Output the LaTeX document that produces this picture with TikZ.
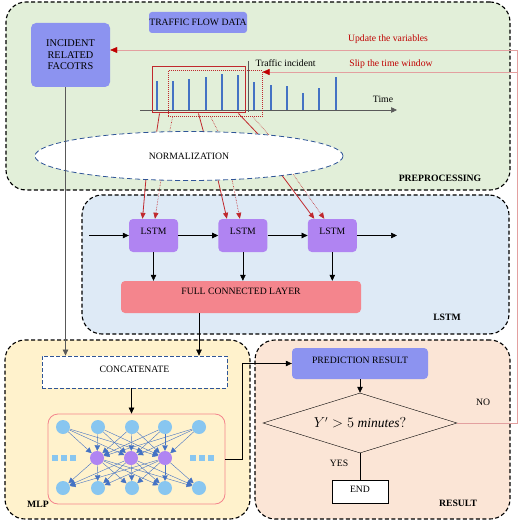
\documentclass[tikz,border=0pt]{standalone}
\usepackage{fontspec}
\setmainfont{Liberation Serif}
\usepackage{xcolor}
\usetikzlibrary{shapes.geometric, arrows.meta, positioning}
\definecolor{prepfill}{HTML}{E2EFD9}
\definecolor{lstmfill}{HTML}{DEEAF6}
\definecolor{mlpfill}{HTML}{FFF2CC}
\definecolor{resfill}{HTML}{FBE5D6}
\definecolor{inputblue}{HTML}{8C93F0}
\definecolor{cellpurple}{HTML}{B084F2}
\definecolor{fclred}{HTML}{F4858D}
\definecolor{barblue}{HTML}{4472C4}
\definecolor{darkred}{HTML}{C00000}
\definecolor{winred}{HTML}{C0282D}
\definecolor{fbpink}{HTML}{E3A0A0}
\definecolor{neuronblue}{HTML}{88C6F0}
\definecolor{normblue}{HTML}{2F5597}
\tikzset{
    stage/.style={rectangle, rounded corners=20pt, draw, line width=1.1pt, dash pattern=on 4pt off 2.5pt, inner sep=0pt},
    stagelabel/.style={font=\fontsize{9.7}{11}\selectfont\bfseries},
    inputbox/.style={rectangle, rounded corners=5pt, fill=inputblue, align=center, inner sep=0pt},
    cell/.style={rectangle, rounded corners=4pt, fill=cellpurple, minimum width=49pt, minimum height=33pt, inner sep=0pt, text depth=9pt},
    fcl/.style={rectangle, rounded corners=4pt, fill=fclred, minimum width=240pt, minimum height=32pt, inner sep=0pt, text depth=12pt},
    window/.style={rectangle, draw=winred, line width=1pt, minimum width=93pt, minimum height=46pt, inner sep=0pt},
    neuron/.style={circle, fill=neuronblue, minimum size=14pt, inner sep=0pt},
    hidden/.style={circle, fill=cellpurple, minimum size=14pt, inner sep=0pt},
    dots/.style={rectangle, fill=neuronblue, minimum size=6pt, inner sep=0pt},
    arrow/.style={-{Stealth[inset=0pt, length=6pt, width=5.5pt]}, semithick},
    nnarrow/.style={-{Stealth[inset=0pt, length=5.5pt, width=5.5pt]}, barblue, thin},
    redarrow/.style={-{Stealth[inset=0pt, length=6pt, width=5pt]}, winred, semithick},
    fbline/.style={fbpink, thin, -{Stealth[inset=0pt, length=7pt, width=6pt, color=darkred]}},
    bar/.style={barblue, line width=2.6pt}
}

\begin{document}
\begin{tikzpicture}[x=1pt, y=-1pt, font=\fontsize{9.7}{11}\selectfont, line cap=butt]
    \useasboundingbox (0,0) rectangle (520,521);
    % stages
    \node (prep) [stage, fill=prepfill, minimum width=504pt, minimum height=188pt] at (258,96) {};
    \node (lstmstage) [stage, fill=lstmfill, minimum width=427pt, minimum height=139pt] at (295.5,264.5) {};
    \node (mlp) [stage, fill=mlpfill, minimum width=245pt, minimum height=179pt] at (127.5,429.5) {};
    \node (result) [stage, fill=resfill, minimum width=255pt, minimum height=179pt] at (382.5,429.5) {};
    \node (preplbl) [stagelabel] at (440,178) {PREPROCESSING};
    \node (lstmlbl) [stagelabel] at (447,317) {LSTM};
    \node (mlplbl) [stagelabel] at (38,504) {MLP};
    \node (resultlbl) [stagelabel] at (458,503) {RESULT};

    % preprocessing
    \node (flowdata) [inputbox, minimum width=98pt, minimum height=21pt, rounded corners=3pt] at (198,22.5) {TRAFFIC FLOW DATA};
    \node (incident) [inputbox, minimum width=79pt, minimum height=64pt, font=\fontsize{10.3}{11.5}\selectfont] at (70.5,55) {INCIDENT\\RELATED\\FACOTRS};
    \foreach \x/\t in {157/81, 173/81, 189/79, 206/77, 222/74, 238/75, 254/82, 271/85, 287/86, 303/93, 319/88, 336/77}
        \draw[bar] (\x,110) -- (\x,\t);
    \coordinate (axisstart) at (140,110);
    \coordinate (axisend) at (397,110);
    \draw[arrow, gray!70!black] (axisstart) -- (axisend);
    \node (timelbl) at (383,99) {Time};
    \draw[gray!70!black, thick] (248,61) -- (248,112);
    \node (incidentlbl) [anchor=west] at (252,63) {Traffic incident};
    \node (win1) [window] at (198.5,90) {};
    \node (win2) [window, minimum width=94pt, densely dotted] at (215,94) {};
    \node (norm) [ellipse, draw=normblue, thick, dash pattern=on 5pt off 3pt, fill=white, minimum width=308pt, minimum height=49pt] at (189,156) {NORMALIZATION};

    % windows to normalization
    \foreach \n/\dx/\a in {south west/8/143, south/0/60, south east/-7/18.5}
        \draw[winred, thick] ([xshift=\dx pt]win1.\n) -- (norm.\a);
    \foreach \n/\dx/\a in {south west/5/128, south/-4/40.7, south east/-9/15.2}
        \draw[winred, semithick, densely dotted] ([xshift=\dx pt]win2.\n) -- (norm.\a);

    % lstm
    \node (lstm1) [cell] at (153.5,235.5) {LSTM};
    \node (lstm2) [cell, right=40pt of lstm1] {LSTM};
    \node (lstm3) [cell, right=40pt of lstm2] {LSTM};
    \node (fcl) [fcl] at (241,297) {FULL CONNECTED LAYER};
    \coordinate (lstmin) at (89,235.5);
    \coordinate (lstmout) at (397,235.5);
    \draw[arrow] (lstmin) -- (lstm1);
    \draw[arrow] (lstm1) -- (lstm2);
    \draw[arrow] (lstm2) -- (lstm3);
    \draw[arrow] (lstm3) -- (lstmout);
    \foreach \c in {lstm1, lstm2, lstm3}
        \draw[arrow] (\c.south) -- (\c.south |- fcl.north);
    \draw[redarrow, thick] (norm.209.3) -- ([xshift=-11pt]lstm1.north);
    \draw[redarrow, densely dotted] (norm.221.8) -- ([xshift=1.5pt]lstm1.north);
    \draw[redarrow, thick] (norm.320.3) -- ([xshift=-16pt]lstm2.north);
    \draw[redarrow, densely dotted] (norm.331.3) -- ([xshift=-3pt]lstm2.north);
    \draw[redarrow, thick] (norm.348.9) -- ([xshift=-18pt]lstm3.north);
    \draw[redarrow, densely dotted] (norm.350.8) -- ([xshift=-8pt]lstm3.north);

    % mlp
    \node (concat) [rectangle, draw=normblue, thick, dash pattern=on 4pt off 2pt, fill=white, minimum width=185pt, minimum height=32pt, text depth=6pt] at (134.5,372) {CONCATENATE};
    \node (nnbox) [rectangle, rounded corners=10pt, draw=fclred, thick, minimum width=177pt, minimum height=90pt] at (136.5,459) {};
    \foreach \i/\x in {1/63, 2/98, 3/132, 4/165, 5/199} {
        \node (t\i) [neuron] at (\x,427) {};
        \node (b\i) [neuron] at (\x,488) {};
    }
    \foreach \j/\x in {1/97, 2/131, 3/165}
        \node (h\j) [hidden] at (\x,458) {};
    \foreach \x [count=\k] in {55, 64, 73}
        \node (ldot\k) [dots] at (\x,458) {};
    \foreach \x [count=\k] in {193, 202, 211}
        \node (rdot\k) [dots] at (\x,458) {};
    \foreach \i in {1,...,5}
        \foreach \j in {1,2,3} {
            \draw[nnarrow] (t\i) -- (h\j);
            \draw[nnarrow] (h\j) -- (b\i);
        }
    \draw[arrow, gray!70!black] ([xshift=-5pt]incident.south) -- ([xshift=-5pt]incident.south |- concat.north);
    \draw[arrow] ([xshift=-42pt]fcl.south) -- ([xshift=-42pt]fcl.south |- concat.north);
    \draw[arrow] ([xshift=-3pt]concat.south) -- ([xshift=-3pt]concat.south |- nnbox.north);

    % result
    \node (pred) [inputbox, minimum width=136pt, minimum height=31pt, rounded corners=4pt, text depth=7pt] at (360,363.5) {PREDICTION RESULT};
    \node (check) [diamond, draw, aspect=3.2, minimum width=194pt, minimum height=60pt, inner sep=0pt, font=\fontsize{13.5}{15}\selectfont] at (360,423) {$Y' > 5\ \mathit{minutes}?$};
    \node (endnode) [rectangle, draw, fill=white, minimum width=56pt, minimum height=23pt, inner sep=0pt, text depth=5pt] at (360,491.5) {END};
    \node (yeslbl) at (339,463) {YES};
    \node (nolbl) at (483,402) {NO};
    \draw[arrow] (nnbox.east) -- ++(17,0) |- (pred.west);
    \draw[arrow] (pred.south) -- (check.north);
    \draw (check.south) -- (endnode.north);

    % feedback
    \coordinate (fbtop) at (517,50);
    \coordinate (fbslip) at (517,72);
    \draw[fbline] (check.east) -| (fbtop) -- ([yshift=5pt]incident.east);
    \draw[fbline] (fbslip) -- (fbslip -| win2.east);
    \node (updatelbl) [darkred] at (388,39) {Update the variables};
    \node (sliplbl) [darkred] at (391,64) {Slip the time window};
\end{tikzpicture}
\end{document}
